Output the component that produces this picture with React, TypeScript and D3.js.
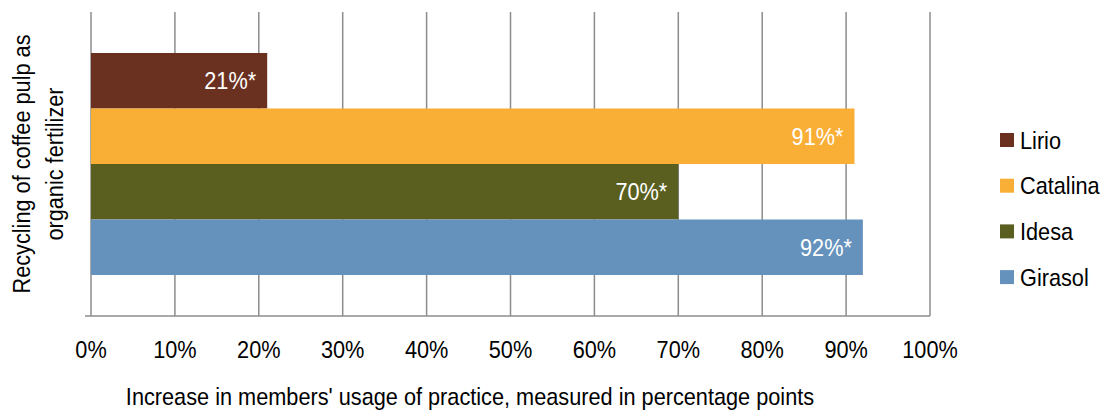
import React from "react";
import * as d3 from "d3";

const category = "Recycling of coffee pulp as organic fertilizer";
const categoryLines = ["Recycling of coffee pulp as", "organic fertilizer"];
const seriesNames = ["Lirio", "Catalina", "Idesa", "Girasol"];
const seriesValues = [21, 91, 70, 92];
const seriesLabels = ["21%*", "91%*", "70%*", "92%*"];
const seriesColors = ["#6B3120", "#F9AE35", "#5A5F20", "#6592BD"];
const xTicks = [0, 10, 20, 30, 40, 50, 60, 70, 80, 90, 100];
const xTitle = "Increase in members' usage of practice, measured in percentage points";

const FONT = "'Liberation Sans', Arial, sans-serif";
const SX = 0.905;

function T(props: { x: number; y: number; anchor?: string; fill?: string; size?: number; children: React.ReactNode }) {
  const { x, y, anchor = "start", fill = "#000", size = 24, children } = props;
  return (
    <text
      transform={`translate(${x}, ${y}) scale(${SX}, 1)`}
      dy="0.36em"
      textAnchor={anchor}
      fill={fill}
      fontSize={size}
    >
      {children}
    </text>
  );
}

export default function App() {
  const W = 1104, H = 410;
  const left = 91, right = 930, top = 12, bottom = 316;
  const x = d3.scaleLinear().domain([0, 100]).range([left, right]);
  const band = d3.scaleBand().domain([category]).range([top, bottom]).paddingInner(0).paddingOuter(0);
  const groupTop = band(category)! + 41;
  const groupH = band.bandwidth() - 82;
  const y = d3.scaleBand().domain(seriesNames).range([groupTop, groupTop + groupH]).padding(0);
  const grid = "#8C8C8C";
  return (
    <svg width={W} height={H} style={{ position: "absolute", left: 0, top: 0, background: "#fff" }} fontFamily={FONT}>
      {xTicks.map((t) => (
        <line key={"g" + t} x1={x(t)} x2={x(t)} y1={top} y2={bottom} stroke={grid} strokeWidth={1.5} />
      ))}
      <line x1={left - 6} x2={right} y1={bottom} y2={bottom} stroke={grid} strokeWidth={1.5} />
      {seriesNames.map((s, i) => (
        <g key={s}>
          <rect x={x(0)} y={y(s)} width={x(seriesValues[i]) - x(0)} height={y.bandwidth()} fill={seriesColors[i]} />
          <T x={x(seriesValues[i]) - 11} y={y(s)! + y.bandwidth() / 2} anchor="end" fill="#fff">
            {seriesLabels[i]}
          </T>
        </g>
      ))}
      {xTicks.map((t) => (
        <T key={"t" + t} x={x(t)} y={349} anchor="middle">
          {t + "%"}
        </T>
      ))}
      <T x={470} y={396} anchor="middle">
        {xTitle}
      </T>
      <g transform={`translate(38, ${(top + bottom) / 2}) rotate(-90)`}>
        {categoryLines.map((l, i) => (
          <T key={l} x={0} y={(i - 0.5) * 33} anchor="middle">
            {l}
          </T>
        ))}
      </g>
      {seriesNames.map((s, i) => (
        <g key={"lg" + s} transform={`translate(1000, ${140 + i * 45.7})`}>
          <rect x={0} y={-7} width={14} height={14} fill={seriesColors[i]} />
          <T x={20} y={0}>
            {s}
          </T>
        </g>
      ))}
    </svg>
  );
}
